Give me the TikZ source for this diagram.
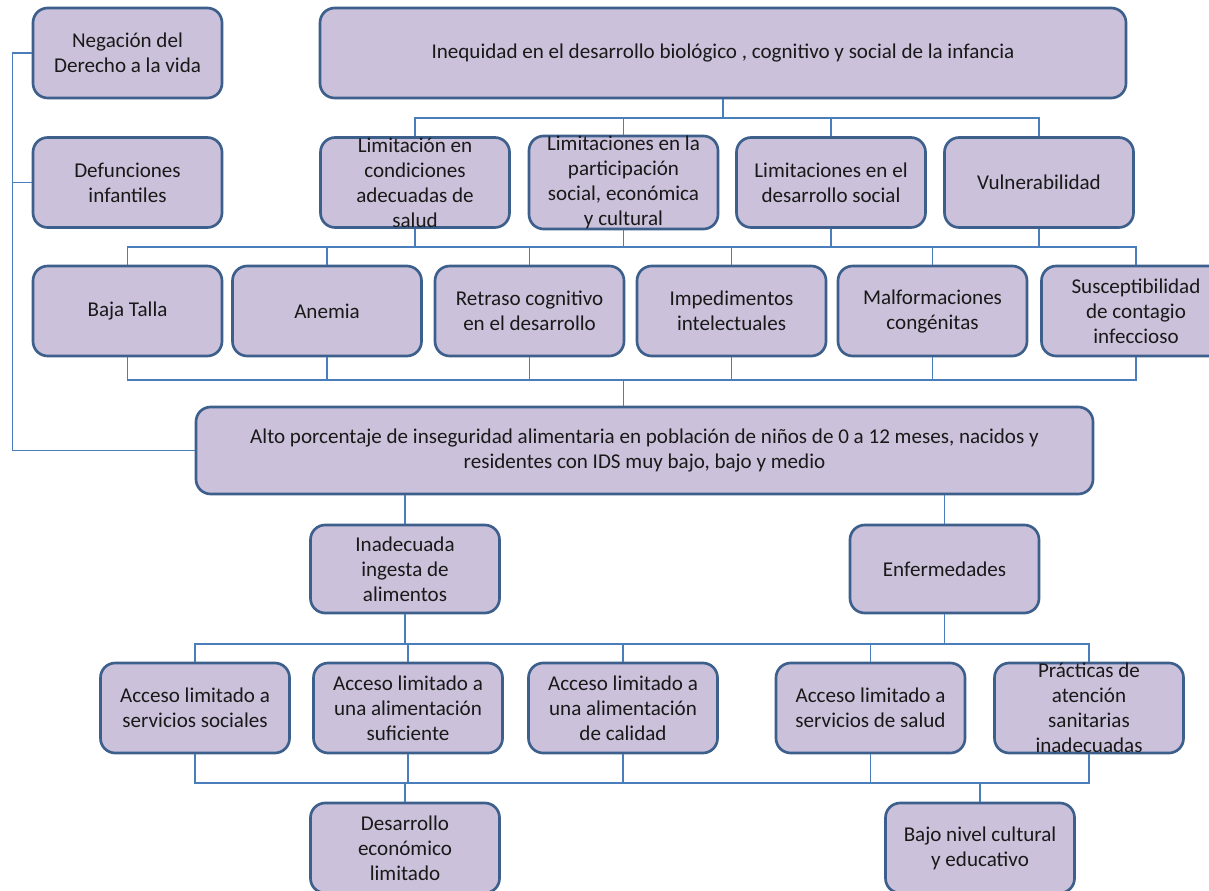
\documentclass[tikz,border=0pt]{standalone}
\usepackage{fontspec}
\setmainfont{Carlito}
\definecolor{relleno}{HTML}{CCC1DA}
\definecolor{borde}{HTML}{3C5F8C}
\definecolor{conector}{HTML}{4A7EBB}
\tikzset{
  caja/.style={draw=borde, fill=relleno, line width=2pt, rounded corners=11pt,
    minimum width=141.75pt, minimum height=67.5pt, inner sep=0pt, align=center,
    font=\fontsize{15.8}{18.75}\selectfont, text=black!90},
  linea/.style={draw=conector, line width=1pt}
}
\begin{document}
\begin{tikzpicture}[x=0.75pt, y=-0.75pt]
  \clip (0,0) rectangle (1209,891);
  \fill[white] (0,0) rectangle (1209,891);

  \node[caja] (neg) at (127.5,53) {Negación del\\Derecho a la vida};
  \node[caja, minimum width=604.5pt] (ineq) at (723,53) {Inequidad en el desarrollo biológico , cognitivo y social de la infancia};

  \node[caja] (def) at (127.5,182.5) {Defunciones\\infantiles};
  \node[caja] (lim) at (415,182.5) {Limitación en\\condiciones\\adecuadas de\\salud};
  \node[caja] (par) at (623.5,182.5) {Limitaciones en la\\participación\\social, económica\\y cultural};
  \node[caja] (des) at (831,182.5) {Limitaciones en el\\desarrollo social};
  \node[caja] (vul) at (1039,182.5) {Vulnerabilidad};

  \node[caja] (baja) at (127.5,311) {Baja Talla};
  \node[caja] (ane) at (327,311) {Anemia};
  \node[caja] (ret) at (529.5,311) {Retraso cognitivo\\en el desarrollo};
  \node[caja] (imp) at (731.5,311) {Impedimentos\\intelectuales};
  \node[caja] (mal) at (932.5,311) {Malformaciones\\congénitas};
  \node[caja] (sus) at (1136,311) {Susceptibilidad\\de contagio\\infeccioso};

  \node[caja, minimum width=672.75pt, minimum height=65.25pt] (alto) at (644.5,450.5) {Alto porcentaje de inseguridad alimentaria en población de niños de 0 a 12 meses, nacidos y\\residentes con IDS muy bajo, bajo y medio};

  \node[caja, minimum height=66pt] (ina) at (405,569) {Inadecuada\\ingesta de\\alimentos};
  \node[caja, minimum height=66pt] (enf) at (944.5,569) {Enfermedades};

  \node[caja] (soc) at (195,708) {Acceso limitado a\\servicios sociales};
  \node[caja] (suf) at (408,708) {Acceso limitado a\\una alimentación\\suficiente};
  \node[caja] (cal) at (623,708) {Acceso limitado a\\una alimentación\\de calidad};
  \node[caja] (sal) at (870.5,708) {Acceso limitado a\\servicios de salud};
  \node[caja] (pra) at (1089,708) {Prácticas de\\atención\\sanitarias\\inadecuadas};

  \node[caja] (eco) at (405,848) {Desarrollo\\económico\\limitado};
  \node[caja] (baj) at (980,848) {Bajo nivel cultural\\y educativo};

  \coordinate (b1) at (0,118);
  \coordinate (b2) at (0,247);
  \coordinate (b3) at (0,380);
  \coordinate (b4) at (0,644);
  \coordinate (b5) at (0,783);

  \draw[linea] (ineq.south) -- (ineq.south |- b1);
  \draw[linea] (lim.north) |- (vul.north |- b1) -- (vul.north);
  \foreach \n in {par,des} \draw[linea] (\n.north) -- (\n.north |- b1);

  \draw[linea] (baja.north) |- (sus.north |- b2) -- (sus.north);
  \foreach \n in {lim,par,des,vul} \draw[linea] (\n.south) -- (\n.south |- b2);
  \foreach \n in {ane,ret,imp,mal} \draw[linea] (\n.north) -- (\n.north |- b2);

  \draw[linea] (baja.south) |- (sus.south |- b3) -- (sus.south);
  \foreach \n in {ane,ret,imp,mal} \draw[linea] (\n.south) -- (\n.south |- b3);
  \draw[linea] (par.south |- b3) -- (par.south |- alto.north);

  \draw[linea] (neg.west) -- ++(-19,0) |- (alto.west);
  \draw[linea] (def.west) -- ++(-19,0);

  \draw[linea] (ina.north |- alto.south) -- (ina.north);
  \draw[linea] (enf.north |- alto.south) -- (enf.north);

  \draw[linea] (soc.north) |- (pra.north |- b4) -- (pra.north);
  \foreach \n in {suf,cal,sal} \draw[linea] (\n.north) -- (\n.north |- b4);
  \draw[linea] (ina.south) -- (ina.south |- b4);
  \draw[linea] (enf.south) -- (enf.south |- b4);

  \draw[linea] (soc.south) |- (pra.south |- b5) -- (pra.south);
  \foreach \n in {suf,cal,sal} \draw[linea] (\n.south) -- (\n.south |- b5);
  \draw[linea] (eco.north |- b5) -- (eco.north);
  \draw[linea] (baj.north |- b5) -- (baj.north);
\end{tikzpicture}
\end{document}
